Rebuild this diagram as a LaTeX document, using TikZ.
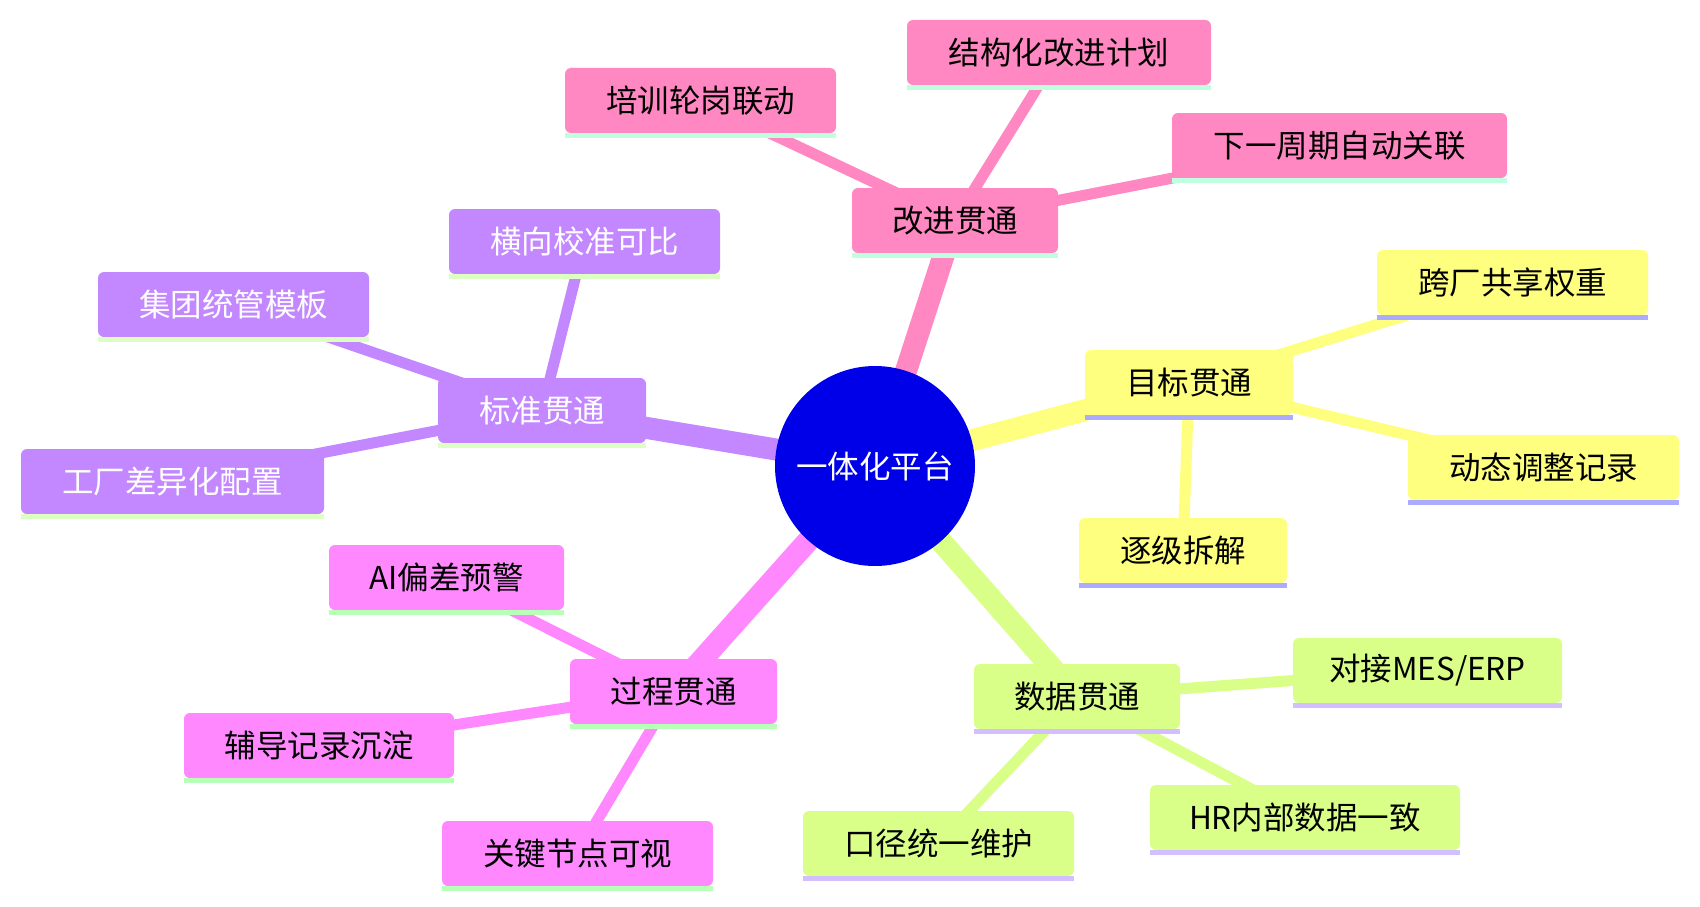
\documentclass[tikz,border=0pt]{standalone}
\usepackage{fontspec}
\newfontfamily\cjk{Noto Sans CJK SC}
\usetikzlibrary{backgrounds}
\definecolor{rootC}{HTML}{0000E8}
\definecolor{pinkF}{HTML}{FF88C2}
\definecolor{pinkU}{HTML}{BFFFDF}
\definecolor{purpF}{HTML}{C388FF}
\definecolor{purpU}{HTML}{DDFFC3}
\definecolor{yelF}{HTML}{FFFF7F}
\definecolor{yelU}{HTML}{ABABFF}
\definecolor{grnF}{HTML}{D9FF88}
\definecolor{grnU}{HTML}{D3BFFF}
\definecolor{magF}{HTML}{FF88FF}
\definecolor{magU}{HTML}{B8FFB8}
\tikzset{
  txt/.style={font=\cjk\fontsize{31.5pt}{38pt}\selectfont},
  box/.style={txt, rectangle, rounded corners=6pt, minimum height=65pt, inner xsep=0pt, inner ysep=0pt, text=black},
  pinkbox/.style={box, fill=pinkF},
  purpbox/.style={box, fill=purpF, text=white},
  yelbox/.style={box, fill=yelF},
  grnbox/.style={box, fill=grnF},
  magbox/.style={box, fill=magF},
  ul/.style={line width=5pt, line cap=butt},
  edgeA/.style={line width=22pt, line cap=butt},
  edgeB/.style={line width=11pt, line cap=butt},
}
\newcommand{\uline}[2]{\draw[ul,#2] ([yshift=-2.5pt]#1.south west) -- ([yshift=-2.5pt]#1.south east);}
\begin{document}
\begin{tikzpicture}[x=1pt,y=-1pt]
\useasboundingbox (0,0) rectangle (1700,907);

% root
\node[circle, fill=rootC, minimum size=200pt, inner sep=0pt, txt, text=white] (root) at (875,466) {一体化平台};

% pink section
\node[pinkbox, minimum width=206pt] (imp) at (955,220.5) {改进贯通};
\node[pinkbox, minimum width=304pt] (imp1) at (1059,52.5) {结构化改进计划};
\node[pinkbox, minimum width=271pt] (imp2) at (700.5,100.5) {培训轮岗联动};
\node[pinkbox, minimum width=335pt] (imp3) at (1339.5,145.5) {下一周期自动关联};

% purple section
\node[purpbox, minimum width=208pt] (std) at (542,410.5) {标准贯通};
\node[purpbox, minimum width=271pt] (std1) at (584.5,241.5) {横向校准可比};
\node[purpbox, minimum width=271pt] (std2) at (233.5,304.5) {集团统管模板};
\node[purpbox, minimum width=303pt] (std3) at (172.5,481.5) {工厂差异化配置};

% yellow section
\node[yelbox, minimum width=208pt] (goal) at (1189,382.5) {目标贯通};
\node[yelbox, minimum width=271pt] (goal1) at (1512.5,282.5) {跨厂共享权重};
\node[yelbox, minimum width=271pt] (goal2) at (1543.5,467.5) {动态调整记录};
\node[yelbox, minimum width=208pt] (goal3) at (1183,550.5) {逐级拆解};

% green section
\node[grnbox, minimum width=206pt] (dat) at (1077,696.5) {数据贯通};
\node[grnbox, minimum width=269pt] (dat1) at (1427.5,670.5) {对接MES/ERP};
\node[grnbox, minimum width=310pt] (dat2) at (1305,817.5) {HR内部数据一致};
\node[grnbox, minimum width=271pt] (dat3) at (938.5,843.5) {口径统一维护};

% magenta section
\node[magbox, minimum width=207pt] (pro) at (673.5,691.5) {过程贯通};
\node[magbox, minimum width=235pt] (pro1) at (446.5,577.5) {AI偏差预警};
\node[magbox, minimum width=270pt] (pro2) at (319,745.5) {辅导记录沉淀};
\node[magbox, minimum width=271pt] (pro3) at (577.5,853.5) {关键节点可视};

% underlines
\uline{imp}{pinkU}\uline{imp1}{pinkU}\uline{imp2}{pinkU}\uline{imp3}{pinkU}
\uline{std}{purpU}\uline{std1}{purpU}\uline{std2}{purpU}\uline{std3}{purpU}
\uline{goal}{yelU}\uline{goal1}{yelU}\uline{goal2}{yelU}\uline{goal3}{yelU}
\uline{dat}{grnU}\uline{dat1}{grnU}\uline{dat2}{grnU}\uline{dat3}{grnU}
\uline{pro}{magU}\uline{pro1}{magU}\uline{pro2}{magU}\uline{pro3}{magU}

\begin{scope}[on background layer]
\fill[white] (0,0) rectangle (1700,907);
\draw[edgeA, pinkF] (root.center) -- (imp.center);
\draw[edgeB, pinkF] (imp.center) -- (imp1.center);
\draw[edgeB, pinkF] (imp.center) -- (imp2.center);
\draw[edgeB, pinkF] (imp.center) -- (imp3.center);
\draw[edgeA, purpF] (root.center) -- (std.center);
\draw[edgeB, purpF] (std.center) -- (std1.center);
\draw[edgeB, purpF] (std.center) -- (std2.center);
\draw[edgeB, purpF] (std.center) -- (std3.center);
\draw[edgeA, yelF] (root.center) -- (goal.center);
\draw[edgeB, yelF] (goal.center) -- (goal1.center);
\draw[edgeB, yelF] (goal.center) -- (goal2.center);
\draw[edgeB, yelF] (goal.center) -- (goal3.center);
\draw[edgeA, grnF] (root.center) -- (dat.center);
\draw[edgeB, grnF] (dat.center) -- (dat1.center);
\draw[edgeB, grnF] (dat.center) -- (dat2.center);
\draw[edgeB, grnF] (dat.center) -- (dat3.center);
\draw[edgeA, magF] (root.center) -- (pro.center);
\draw[edgeB, magF] (pro.center) -- (pro1.center);
\draw[edgeB, magF] (pro.center) -- (pro2.center);
\draw[edgeB, magF] (pro.center) -- (pro3.center);
\end{scope}
\end{tikzpicture}
\end{document}
